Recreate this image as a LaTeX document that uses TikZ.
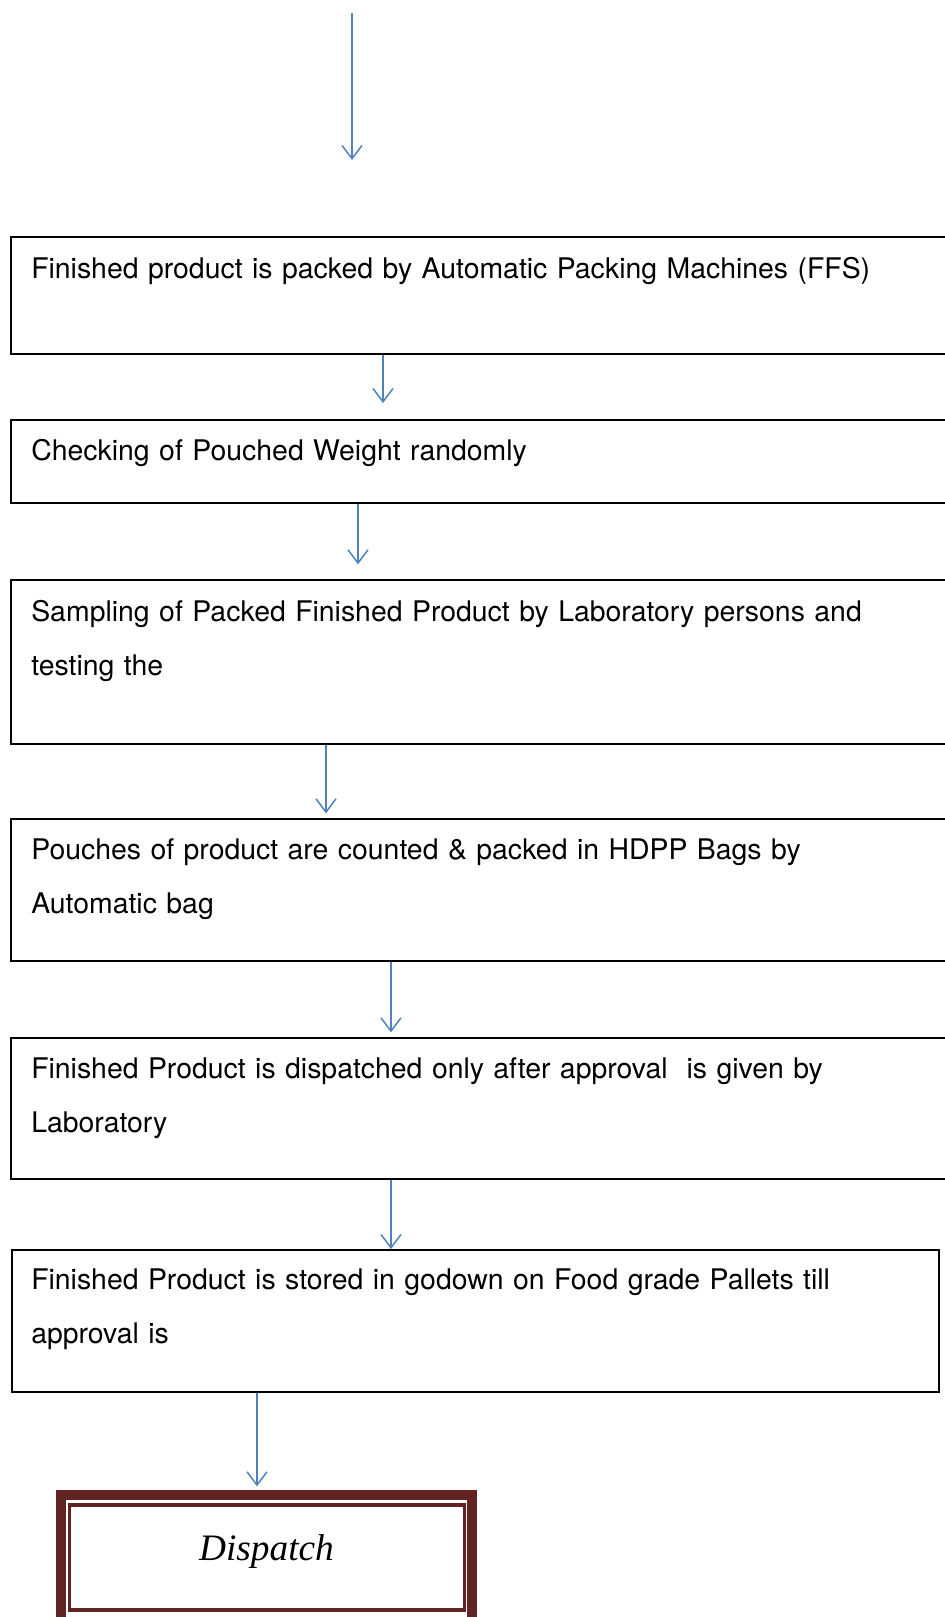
\documentclass[tikz,border=0pt]{standalone}
\usepackage{fontspec}
\setmainfont{TeX Gyre Heros}
\newfontfamily\dispatchfont{Liberation Serif}
\usetikzlibrary{arrows.meta,calc}

\definecolor{flowblue}{RGB}{79,129,189}
\definecolor{darkmaroon}{RGB}{98,36,35}

\tikzset{
  stage/.style={draw, line width=1.5pt, anchor=north west, minimum width=712pt},
  note/.style={anchor=north west, inner sep=0pt, text width=660pt, align=left,
    font=\fontsize{21.3}{40.5}\selectfont},
  flow/.style={draw=flowblue, line width=1.1pt, -{Straight Barb[length=10pt,width=15pt]}},
  finish/.style={draw=darkmaroon, line width=7.9pt, outer sep=0pt, minimum width=308.25pt,
    minimum height=97.5pt, text height=10pt, text depth=10pt,
    font=\dispatchfont\itshape\fontsize{28}{30}\selectfont}
}

\begin{document}
\begin{tikzpicture}[x=0.75pt,y=0.75pt,yscale=-1,xscale=1]
\useasboundingbox (0,0) rectangle (945,1617);

% boxes
\node[stage, minimum height=87.75pt] (pack) at (10,236) {};
\node[stage, minimum height=62.25pt] (weigh) at (10,419) {};
\node[stage, minimum height=123pt] (sample) at (10,579) {};
\node[stage, minimum height=106.5pt] (bag) at (10,818) {};
\node[stage, minimum height=105.75pt] (approve) at (10,1037) {};
\node[stage, minimum height=106.5pt, minimum width=695.25pt] (store) at (11,1249) {};

\node[note] (packtxt) at (31,257) {Finished product is packed by Automatic Packing Machines (FFS)};
\node[note] (weightxt) at (31,439) {Checking of Pouched Weight randomly};
\node[note] (sampletxt) at (31,600) {Sampling of Packed Finished Product by Laboratory persons and\\testing the};
\node[note] (bagtxt) at (31,838) {Pouches of product are counted \& packed in HDPP Bags by\\Automatic bag};
\node[note] (approvetxt) at (31,1057) {Finished Product is dispatched only after approval~ is given by\\Laboratory};
\node[note] (storetxt) at (31,1269) {Finished Product is stored in godown on Food grade Pallets till\\approval is};

% last box
\node[finish] (dispatch) at (266.5,1560) {Dispatch};
\draw[darkmaroon, line width=2.3pt] ($(dispatch.north west)+(8.5,10)$) rectangle ($(dispatch.south east)+(-7.5,-15)$);

% arrows
\coordinate (start) at (352,13);
\coordinate (startend) at (352,160);
\coordinate (x1) at (383,0);
\coordinate (x2) at (358,0);
\coordinate (x3) at (326,0);
\coordinate (x4) at (391,0);
\coordinate (x6) at (257,0);

\draw[flow] (start) -- (startend);
\draw[flow, shorten >=12pt] (pack.south -| x1) -- (weigh.north -| x1);
\draw[flow, shorten >=11pt] (weigh.south -| x2) -- (sample.north -| x2);
\draw[flow, shorten >=3.5pt] (sample.south -| x3) -- (bag.north -| x3);
\draw[flow, shorten >=3.5pt] (bag.south -| x4) -- (approve.north -| x4);
\draw[flow] (approve.south -| x4) -- (store.north -| x4);
\draw[flow, shorten >=6.5pt] (store.south -| x6) -- (dispatch.north -| x6);

\end{tikzpicture}
\end{document}
